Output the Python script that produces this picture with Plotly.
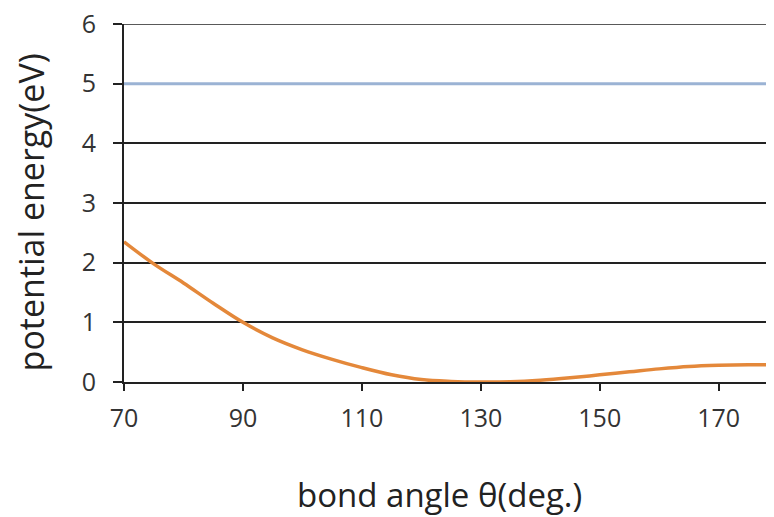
import plotly.graph_objects as go

angles = [70, 75, 80, 85, 90, 95, 100, 105, 110, 115, 120, 125, 130, 135, 140, 145, 150, 155, 160, 165, 170, 175, 180]
energy = [2.35, 1.98, 1.66, 1.32, 1.0, 0.74, 0.54, 0.38, 0.24, 0.12, 0.04, 0.01, 0.0, 0.005, 0.03, 0.07, 0.12, 0.17, 0.22, 0.26, 0.28, 0.29, 0.29]
ref_angles = [70, 180]
ref_energy = [5, 5]
x_ticks = [70, 90, 110, 130, 150, 170]
y_ticks = [0, 1, 2, 3, 4, 5, 6]
x_title = "bond angle θ(deg.)"
y_title = "potential energy(eV)"

fig = go.Figure()
fig.add_trace(go.Scatter(x=ref_angles, y=ref_energy, mode="lines",
                         line=dict(color="#9BB3D4", width=3), showlegend=False))
fig.add_trace(go.Scatter(x=angles, y=energy, mode="lines", line_shape="spline",
                         line=dict(color="#E4883A", width=3.5), showlegend=False))

grid_color = "#222"
font_family = "Open Sans, Noto Sans, sans-serif"
fig.update_layout(
    width=774, height=517,
    margin=dict(l=116, r=8, t=16, b=143, autoexpand=False),
    paper_bgcolor="white", plot_bgcolor="white",
    font=dict(family=font_family, color="#222"),
    xaxis=dict(
        range=[70, 179.3], tickvals=x_ticks, showgrid=False, zeroline=False,
        showline=True, linecolor="#222", linewidth=2, automargin=False,
        ticks="outside", ticklen=7, tickwidth=2, tickcolor="#222",
        tickfont=dict(size=25, color="#333"), ticklabelstandoff=6,
        ticklabeloverflow="allow",
    ),
    yaxis=dict(
        range=[0, 6], tickvals=y_ticks, showgrid=True, gridcolor=grid_color, gridwidth=1.5,
        zeroline=False, showline=True, linecolor="#222", linewidth=2, automargin=False,
        ticks="outside", ticklen=9, tickwidth=2, tickcolor="#222",
        tickfont=dict(size=25, color="#333"), ticklabelstandoff=12,
        ticklabeloverflow="allow",
    ),
    shapes=[
        dict(type="line", xref="paper", x0=0, x1=1, yref="y", y0=y_ticks[-1], y1=y_ticks[-1],
             line=dict(color=grid_color, width=1.5), layer="below"),
    ],
    annotations=[
        dict(text=x_title, xref="paper", yref="paper", x=0.486, y=-0.3142,
             xanchor="center", yanchor="middle", showarrow=False,
             font=dict(size=33, color="#222")),
        dict(text=y_title, xref="paper", yref="paper", x=-0.1439, y=0.475,
             xanchor="center", yanchor="middle", showarrow=False, textangle=-90,
             font=dict(size=34, color="#222")),
    ],
)
fig.write_html("out.html")
